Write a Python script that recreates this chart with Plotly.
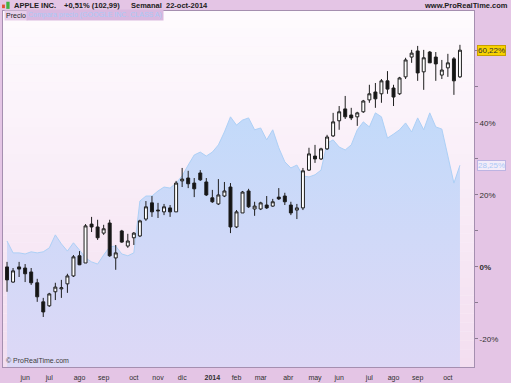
import pandas as pd
import plotly.graph_objects as go

# ---------------- data ----------------
weeks = pd.date_range("2013-05-13", periods=76, freq="W-MON")

apple_open = [0.0, -4.2, 0.0, -0.3, -1.4, -4.4, -9.7, -10.8, -6.9, -6.1,
              -4.7, -2.5, 3.1, 1.1, 11.9, 11.1, 9.4, 12.2, 2.5, 10.0,
              5.8, 8.1, 8.6, 13.3, 17.8, 15.8, 15.3, 16.4, 15.3, 23.9,
              24.7, 23.3, 26.1, 23.6, 19.2, 17.5, 19.7, 22.2, 11.1, 15.0,
              21.1, 16.1, 16.1, 17.2, 16.9, 19.4, 19.7, 17.2, 15.8, 16.4,
              26.9, 30.8, 30.0, 32.8, 36.4, 40.6, 43.9, 42.2, 41.7, 43.1,
              46.4, 48.6, 48.1, 51.7, 49.7, 48.1, 52.8, 58.3, 60.0, 54.2,
              59.7, 58.3, 53.3, 55.3, 57.8, 52.8]
apple_high = [1.4, -0.3, 1.4, 0.8, -0.3, -3.3, -8.6, -7.2, -4.4, -3.6,
              -1.9, 3.3, 4.4, 11.9, 13.9, 13.1, 11.7, 13.1, 6.1, 10.3,
              9.2, 9.7, 13.1, 18.3, 19.7, 17.8, 17.5, 17.2, 23.9, 27.5,
              26.7, 24.7, 26.9, 24.7, 21.4, 24.4, 23.6, 23.3, 15.8, 21.1,
              21.7, 18.1, 18.1, 19.7, 18.9, 21.9, 20.6, 18.1, 17.5, 27.5,
              33.1, 33.9, 33.1, 36.7, 42.8, 44.7, 47.5, 44.2, 43.1, 46.4,
              50.6, 51.1, 52.2, 54.4, 50.6, 52.8, 58.1, 60.3, 61.4, 60.3,
              60.0, 59.7, 57.5, 59.2, 58.3, 61.7]
apple_low = [-6.9, -4.4, -2.8, -4.2, -5.0, -9.7, -13.9, -11.1, -9.2, -8.6,
             -7.2, -2.8, 0.5, 1.1, 9.7, 7.5, 8.9, 2.8, -0.8, 6.7,
             5.3, 6.1, 8.3, 12.8, 13.9, 13.6, 14.4, 13.9, 15.3, 22.2,
             21.9, 19.4, 23.9, 19.7, 17.8, 17.2, 19.4, 9.4, 10.8, 15.0,
             16.4, 14.2, 15.8, 16.1, 16.7, 18.6, 17.2, 14.4, 13.3, 15.8,
             26.7, 28.9, 29.7, 32.5, 36.1, 38.1, 41.1, 40.8, 39.2, 42.8,
             45.6, 44.2, 45.6, 48.1, 44.7, 47.8, 52.2, 56.7, 51.7, 49.2,
             56.7, 51.7, 52.2, 52.8, 47.8, 52.5]
apple_close = [-3.6, -1.1, -0.6, -1.9, -4.4, -8.3, -12.5, -7.5, -5.6, -5.8,
               -2.5, 2.8, 0.6, 11.4, 11.1, 8.1, 10.6, 3.1, 3.9, 6.9,
               7.2, 9.4, 12.8, 16.7, 15.3, 15.6, 16.7, 15.3, 23.3, 24.4,
               23.1, 21.7, 24.2, 20.0, 18.1, 20.0, 21.1, 11.1, 15.3, 20.8,
               16.7, 16.9, 17.8, 16.4, 18.1, 18.9, 18.1, 15.0, 16.4, 26.7,
               31.4, 30.0, 32.8, 36.1, 40.3, 43.1, 41.7, 41.4, 42.8, 46.1,
               48.1, 46.7, 51.7, 49.4, 47.2, 52.5, 57.5, 59.4, 53.9, 58.1,
               56.7, 56.4, 54.7, 56.7, 51.7, 60.22]

google_pct = [7.2, 3.9, 3.9, 3.6, 4.2, 3.9, 4.2, 5.3, 8.9, 6.4,
              4.4, 6.7, 4.7, 2.5, 1.4, 0.8, 3.3, 5.6, 5.8, 3.6,
              3.1, 3.9, 18.3, 19.7, 19.7, 21.1, 22.2, 21.9, 23.3, 25.3,
              28.3, 31.1, 31.9, 30.8, 31.9, 33.9, 37.5, 41.7, 39.4, 40.8,
              41.4, 38.1, 38.6, 35.3, 38.1, 33.1, 29.2, 27.5, 28.3, 25.3,
              25.0, 25.6, 26.9, 34.4, 35.3, 33.3, 32.5, 33.9, 38.1, 40.3,
              38.9, 42.8, 41.7, 35.8, 36.9, 38.1, 40.0, 37.5, 41.4, 38.1,
              42.8, 38.9, 38.3, 30.8, 23.3, 28.25]

month_ticks = ["2013-06-03", "2013-07-01", "2013-08-05", "2013-09-02", "2013-10-07",
               "2013-11-04", "2013-12-02", "2014-01-06", "2014-02-03", "2014-03-03",
               "2014-04-04", "2014-05-05", "2014-06-02", "2014-07-07", "2014-08-04",
               "2014-09-01", "2014-10-06"]
month_labels = ["jun", "jul", "ago", "sep", "oct", "nov", "dic", "<b>2014</b>", "feb",
                "mar", "abr", "may", "jun", "jul", "ago", "sep", "oct"]

pct_ticks = [-20, -10, 0, 10, 20, 30, 40, 50, 60]
pct_labels = ["-20%", "", "<b>0%</b>", "", "20%", "", "40%", "", ""]

apple_last_label = "60,22%"
google_last_label = "28,25%"
header_parts = ["APPLE INC.", "+0,51% (102,99)", "Semanal", "22-oct-2014"]

# ---------------- layout constants ----------------
Y_MIN, Y_MAX = -27.8, 71.1
X_RANGE = ["2013-05-08 08:00", "2014-11-05 07:00"]
FONT = "Liberation Sans, Arial, sans-serif"
PANEL = "#e4c5e5"
FRAME = "#a58fb0"
HEADER_X = [12, 62, 129, 164]

fig = go.Figure()

# baseline for the comparison area (bottom of the plot)
fig.add_trace(go.Scatter(
    x=weeks, y=[Y_MIN] * len(weeks), mode="lines",
    line=dict(width=0, color="rgba(0,0,0,0)"),
    showlegend=False, hoverinfo="skip"))

fig.add_trace(go.Scatter(
    x=weeks, y=google_pct, mode="lines", fill="tonexty",
    line=dict(color="#add0f6", width=1),
    fillgradient=dict(type="vertical",
                      colorscale=[[0, "#ddd8f6"], [0.5, "#d0d9f8"], [1, "#c1dafa"]],
                      start=Y_MIN, stop=45),
    showlegend=False, hoverinfo="skip"))

# candles on an overlaying subplot so they are drawn above the area
fig.add_trace(go.Candlestick(
    x=weeks, open=apple_open, high=apple_high, low=apple_low, close=apple_close,
    xaxis="x2", yaxis="y2",
    increasing=dict(line=dict(color="#1e1e1e", width=1), fillcolor="#ffffff"),
    decreasing=dict(line=dict(color="#1e1e1e", width=1), fillcolor="#141414"),
    whiskerwidth=0, showlegend=False, hoverinfo="skip"))

# pink vertical gradient of the plot background
shapes = []
n_bands = 40
top_rgb = (254, 251, 254)
bot_rgb = (243, 222, 240)
for k in range(n_bands):
    t = (k + 0.5) / n_bands
    r = round(top_rgb[0] + (bot_rgb[0] - top_rgb[0]) * t)
    g = round(top_rgb[1] + (bot_rgb[1] - top_rgb[1]) * t)
    b = round(top_rgb[2] + (bot_rgb[2] - top_rgb[2]) * t)
    shapes.append(dict(type="rect", xref="x domain", yref="y domain",
                       x0=0, x1=1, y0=1 - (k + 1) / n_bands, y1=1 - k / n_bands,
                       fillcolor=f"rgb({r},{g},{b})", line=dict(width=0), layer="below"))

# small app icon in the header
shapes.append(dict(type="rect", xref="paper", yref="paper", x0=-0.002, x1=0.004,
                   y0=1.008, y1=1.018, fillcolor="#e05030", line=dict(width=0)))
shapes.append(dict(type="rect", xref="paper", yref="paper", x0=0.007, x1=0.014,
                   y0=1.006, y1=1.026, fillcolor="#40b040", line=dict(width=0)))

annotations = []
for txt, px in zip(header_parts, HEADER_X):
    annotations.append(dict(text=f"<b>{txt}</b>", xref="paper", yref="paper",
                            x=(px - 3) / 471, y=(367 - 5) / 356, xanchor="left", yanchor="middle",
                            showarrow=False, font=dict(family=FONT, size=7.5, color="#202020")))
annotations.append(dict(text="<b>www.ProRealTime.com</b>", xref="paper", yref="paper",
                        x=(510 - 3) / 471, y=(367 - 5) / 356, xanchor="right", yanchor="middle",
                        showarrow=False, font=dict(family=FONT, size=7.5, color="#202020")))

# labels row
annotations.append(dict(text="Precio", xref="paper", yref="paper", x=(4 - 3) / 471,
                        y=(367 - 15) / 356, xanchor="left", yanchor="middle", showarrow=False,
                        bgcolor="#e7cfea", borderpad=1,
                        font=dict(family=FONT, size=7, color="#202020")))
annotations.append(dict(text="Compara precio (GOOGLE INC. CLASS A)", xref="paper", yref="paper",
                        x=(26 - 3) / 471, y=(367 - 15) / 356, xanchor="left", yanchor="middle",
                        showarrow=False, bgcolor="#d9b9e0", borderpad=1,
                        font=dict(family=FONT, size=7, color="#a9c9f7")))

# copyright
annotations.append(dict(text="© ProRealTime.com", xref="paper", yref="paper", x=(4 - 3) / 471,
                        y=(367 - 366) / 356, xanchor="left", yanchor="bottom", showarrow=False,
                        font=dict(family=FONT, size=7, color="#404040")))

# last value labels
annotations.append(dict(text=apple_last_label, xref="paper", yref="y", x=1, xshift=3,
                        y=apple_close[-1], xanchor="left", yanchor="middle", showarrow=False,
                        bgcolor="#f8d200", bordercolor="#c9a000", borderwidth=1, borderpad=0,
                        font=dict(family=FONT, size=8, color="#303030")))
annotations.append(dict(text=google_last_label, xref="paper", yref="y", x=1, xshift=3,
                        y=google_pct[-1], xanchor="left", yanchor="middle", showarrow=False,
                        bgcolor="#f3ecf9", bordercolor="#bdb4e2", borderwidth=1, borderpad=0,
                        font=dict(family=FONT, size=8, color="#a9c9f7")))

fig.update_layout(
    width=511, height=383,
    margin=dict(l=3, r=37, t=11, b=16, pad=0, autoexpand=False),
    paper_bgcolor=PANEL,
    plot_bgcolor="#fbf1fa",
    shapes=shapes,
    annotations=annotations,
    showlegend=False,
    font=dict(family=FONT, size=8, color="#303030"),
    xaxis=dict(type="date", range=X_RANGE, tickvals=month_ticks, ticktext=month_labels,
               showgrid=False, zeroline=False, showline=True, mirror=True, automargin=False,
               linecolor=FRAME, linewidth=1, ticks="", tickangle=0, ticklabelstandoff=4,
               tickfont=dict(family=FONT, size=7, color="#303030"),
               rangeslider=dict(visible=False), fixedrange=True),
    yaxis=dict(range=[Y_MIN, Y_MAX], side="right", tickvals=pct_ticks, ticktext=pct_labels,
               showgrid=False, zeroline=False, showline=True, mirror=True, automargin=False,
               linecolor=FRAME, linewidth=1, ticks="outside", ticklen=3, tickcolor="#8a7a90",
               tickfont=dict(family=FONT, size=8, color="#303030"), fixedrange=True),
    xaxis2=dict(type="date", range=X_RANGE, overlaying="x", visible=False,
                rangeslider=dict(visible=False), fixedrange=True),
    yaxis2=dict(range=[Y_MIN, Y_MAX], overlaying="y", visible=False, fixedrange=True),
)

fig.write_html("out.html", config={"displayModeBar": False})
